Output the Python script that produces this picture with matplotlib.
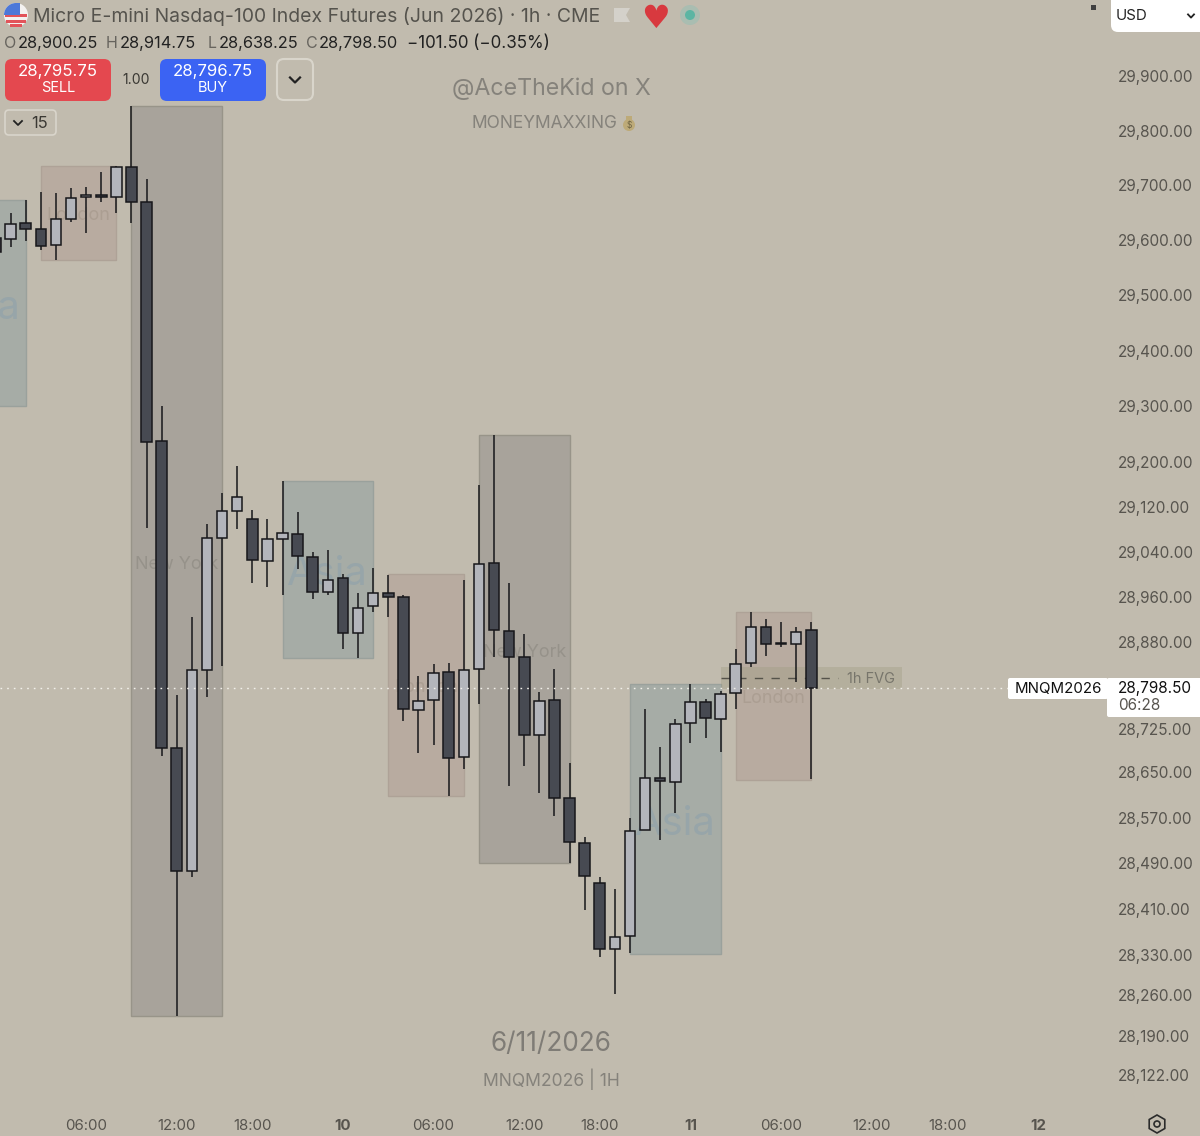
import matplotlib
matplotlib.use('Agg')
import matplotlib.pyplot as plt
from matplotlib.patches import FancyBboxPatch, Circle, Rectangle, RegularPolygon, Polygon, Ellipse, Wedge

plt.rcParams['font.family'] = ['Inter', 'DejaVu Sans']

BG = '#c1bbae'

# hourly bars, index 0 is the first bar fully on screen
bars = list(range(-1, 54))
opens = [29604.5, 29602.5, 29631.5, 29621, 29591.5, 29639, 29679, 29682.5, 29679, 29733.5, 29670,
         29238, 28692, 28476.5, 28830, 29064.25, 29112.5, 29098, 29023.25, 29062.5, 29071.5,
         29030.5, 28968, 28993, 28895.5, 28943.25, 28966.5, 28959.25, 28759.25, 28776.75, 28826.25,
         28676.5, 28831.5, 29019.75, 28899, 28852.75, 28715, 28776.75, 28604.25, 28525.5, 28455.5,
         28340.5, 28363, 28548.25, 28639.5, 28632.5, 28736.25, 28773.25, 28743.25, 28789, 28842.25,
         28906, 28877.5, 28875.75, 28900.25]
highs = [29615, 29650, 29673.5, 29688, 29686, 29695.5, 29697, 29724.5, 29735, 29845, 29712,
         29300.75, 28785.5, 28923.75, 29089, 29144.5, 29193, 29114, 29098, 29166, 29110.5,
         29039.25, 29043, 29000, 28966.5, 29011, 28998.5, 28962.75, 28819.25, 28840.5, 28842.25,
         28989.5, 29159, 29248.5, 28984, 28893.5, 28791, 28831.5, 28665.75, 28536, 28466,
         28445, 28569.25, 28761, 28694, 28743.25, 28805, 28778.5, 28792.75, 28867, 28932.5,
         28920, 28915, 28906, 28914.75]
lows = [29570, 29588, 29599, 29582.5, 29564, 29633.5, 29613.5, 29670, 29650, 29631.5, 29082,
        28678, 28224, 28466, 28782, 28837, 29080.25, 28984, 28977, 28962.75, 29009,
        28955.75, 28962.75, 28867, 28851, 28932.5, 28923.75, 28739.75, 28683.5, 28697.5, 28607.75,
        28655.25, 28769.75, 28852.75, 28625.5, 28660.5, 28613, 28572.75, 28490.5, 28408.5, 28326.5,
        28262.25, 28333.5, 28548.25, 28530.75, 28578, 28701, 28710, 28685.25, 28761, 28835,
        28854.5, 28870.5, 28808.5, 28638.25]
closes = [29579, 29630, 29621, 29590, 29639, 29677, 29682.5, 29679, 29733.5, 29670, 29236.5,
          28692, 28476.5, 28830, 29064.25, 29112.5, 29137.5, 29025, 29062.5, 29073, 29032,
          28968, 28989.5, 28895.5, 28939.75, 28966.5, 28959.25, 28761, 28775, 28824.5, 28674.5,
          28829.75, 29018, 28900.75, 28852.75, 28715, 28775, 28604.25, 28527.25, 28467.75, 28340.5,
          28361.5, 28546.5, 28639.5, 28634.25, 28734.5, 28773.25, 28745, 28787.5, 28840.5, 28906,
          28875.75, 28875.75, 28897, 28798.5]

# session boxes
session_names = ['Asia', 'London', 'New York', 'Asia', 'London', 'New York', 'Asia', 'London']
session_start = [-5, 2, 8, 18, 25, 31, 41, 48]
session_end = [1, 7, 14, 24, 30, 37, 47, 53]
session_high = [29673.5, 29735, 29845, 29166, 29000, 29248.5, 28805, 28932.5]
session_low = [29300.75, 29564, 28224, 28851, 28607.75, 28490.5, 28331.75, 28636]
session_text_price = [29476, 29646, 29017, 29000, 28798, 28861, 28558, 28779]

fvg_start, fvg_end = 47, 59
fvg_high, fvg_low, fvg_mid = 28835, 28796, 28816
last_price = 28798.5

price_ticks = [29900, 29800, 29700, 29600, 29500, 29400, 29300, 29200, 29120, 29040, 28960, 28880,
               28725, 28650, 28570, 28490, 28410, 28330, 28260, 28190, 28122]
time_ticks = [5, 11, 16, 22, 28, 34, 39, 45, 51, 57, 62, 68]
time_labels = ['06:00', '12:00', '18:00', '10', '06:00', '12:00', '18:00', '11', '06:00', '12:00', '18:00', '12']

box_style = {
    'Asia': ('#a6aca6', '#9aa19c'),
    'London': ('#b8aba0', '#aea297'),
    'New York': ('#a8a39b', '#989489'),
}


def px(size):
    # sizes below were measured in screen pixels
    return size * 0.72


fig = plt.figure(figsize=(12, 11.36), dpi=100, facecolor=BG)
ax = fig.add_axes([0, 30 / 1136, 1108 / 1200, 1106 / 1136], facecolor=BG)
ax.set_yscale('log')
ax.set_xlim(-0.70, 72.64)
ax.set_ylim(28068.7, 30039.8)

for name, x0, x1, hi, lo, tp in zip(session_names, session_start, session_end, session_high,
                                    session_low, session_text_price):
    fill, edge = box_style[name]
    ax.add_patch(Rectangle((x0, lo), x1 - x0, hi - lo, facecolor=fill, edgecolor=edge, lw=1, zorder=1))
    mid = (x0 + x1) / 2
    if name == 'Asia':
        ax.text(mid, tp, name, fontsize=px(40), color='#97a5a9', ha='center', va='center', zorder=2, clip_on=True)
    elif name == 'London':
        ax.text(mid, tp, name, fontsize=px(18), color='#ab9e92', ha='center', va='center', zorder=2, clip_on=True)
    else:
        ax.text(mid, tp, name, fontsize=px(18), color='#96928a', ha='center', va='center', zorder=2, clip_on=True)

# fair value gap
ax.add_patch(Rectangle((fvg_start, fvg_low), fvg_end - fvg_start, fvg_high - fvg_low,
                       facecolor='#9d9a7f', alpha=0.35, lw=0, zorder=2))
ax.plot([fvg_start, fvg_start + 7.8], [fvg_mid, fvg_mid], color='#55534a', lw=1, ls=(0, (6, 6)), zorder=2.5)
ax.text(fvg_start + 8.35, fvg_mid - 1.5, '1h FVG', fontsize=px(14.5), color='#77756b', va='center', zorder=2.5)

# last price line
ax.axhline(last_price, color='#f2f0ea', lw=1, ls=(0, (1.2, 3.6)), zorder=4)

# candles
up = [c >= o for o, c in zip(opens, closes)]
ax.vlines(bars, lows, highs, color='#17171a', lw=1.1, zorder=3)
for b, o, c, is_up in zip(bars, opens, closes, up):
    ax.bar(b, abs(c - o), bottom=min(o, c), width=0.7, color='#b3b5bb' if is_up else '#474a52',
           edgecolor='#17171a', lw=1.1, zorder=3.2)

ax.yaxis.tick_right()
ax.set_yticks(price_ticks)
ax.set_yticklabels([f'{p:,.2f}' for p in price_ticks], fontsize=px(15.3), color='#57544e')
ax.minorticks_off()
ax.set_xticks(time_ticks)
ax.set_xticklabels(time_labels, fontsize=px(15), color='#57544e')
for lab, txt in zip(ax.get_xticklabels(), time_labels):
    if len(txt) == 2:
        lab.set_fontweight('bold')
ax.tick_params(axis='both', length=0)
ax.tick_params(axis='y', pad=7)
ax.tick_params(axis='x', pad=9)
for s in ax.spines.values():
    s.set_visible(False)

# everything on the app chrome goes on a pixel overlay
ui = fig.add_axes([0, 0, 1, 1], facecolor='none', zorder=5)
ui.set_xlim(0, 1200)
ui.set_ylim(1136, 0)
ui.axis('off')


def button(x, y, w, h, fill, edge='none', r=7, lw=1.5):
    ui.add_patch(FancyBboxPatch((x + r, y + r), w - 2 * r, h - 2 * r, boxstyle=f'round,pad={r}',
                                facecolor=fill, edgecolor=edge, lw=lw))


def label(x, y, s, size, color, ha='left', **kw):
    # Inter sits a little high with va=center
    ui.text(x, y + 1.5, s, fontsize=px(size), color=color, ha=ha, va='center', **kw)


def chevron(x, y, w, h, color, lw=1.6):
    ui.plot([x - w, x, x + w], [y - h, y + h, y - h], color=color, lw=lw)


# flag
ui.add_patch(Circle((16, 15), 12, facecolor='#f4f2f0', edgecolor='none'))
ui.add_patch(Rectangle((5, 14), 22, 3, facecolor='#e2545a', lw=0))
ui.add_patch(Rectangle((6, 19.5), 20, 3, facecolor='#e2545a', lw=0))
ui.add_patch(Rectangle((10, 24), 12, 3, facecolor='#e2545a', lw=0))
ui.add_patch(Wedge((16, 15), 12, 180, 270, facecolor='#4d78d8', lw=0))
ui.add_patch(Rectangle((16, 3), 4, 12, facecolor='#4d78d8', lw=0))

label(33, 15, 'Micro E-mini Nasdaq-100 Index Futures (Jun 2026) · 1h · CME', 19.4, '#55534d')

ui.add_patch(Polygon([(614, 8), (630, 8), (626, 15), (630, 22), (614, 22)], facecolor='#d4d1ca', lw=0))
ui.text(656, 19, '♥', fontsize=px(32), color='#d8393f', ha='center', va='center', family='DejaVu Sans')
ui.add_patch(Circle((690, 15), 10, facecolor='#a9bdb1', lw=0))
ui.add_patch(Circle((690, 15), 5, facecolor='#5cb5a3', lw=0))

for x, s, c, sz in [(4, 'O', '#67645e', 16), (18, '28,900.25', '#222222', 16.4), (106, 'H', '#67645e', 16),
                    (120, '28,914.75', '#222222', 16.4), (208, 'L', '#67645e', 16),
                    (219, '28,638.25', '#222222', 16.4), (306, 'C', '#67645e', 16),
                    (319, '28,798.50', '#222222', 16.4), (407, '−101.50 (−0.35%)', '#222222', 17)]:
    label(x, 42, s, sz, c)

button(5, 59, 106, 42, '#e4484f')
label(58, 70, '28,795.75', 16.8, 'white', ha='center')
label(58, 87, 'SELL', 14.5, 'white', ha='center')
label(136, 78.5, '1.00', 14, '#3a3833', ha='center')
button(160, 59, 106, 42, '#3b63f3')
label(213, 70, '28,796.75', 16.8, 'white', ha='center')
label(213, 87, 'BUY', 14.5, 'white', ha='center')
button(277, 59, 36, 41, 'none', edge='#d9d5cb')
chevron(295, 80, 5, 2.5, '#222222', lw=1.6)
button(5, 110, 51, 25, 'none', edge='#d9d5cb', r=4, lw=1.2)
chevron(18, 123, 4, 2, '#222222', lw=1.3)
label(40, 122, '15', 16.5, '#3a3833', ha='center')

label(551, 87, '@AceTheKid on X', 23.2, '#85827b', ha='center')
label(544.5, 122, 'MONEYMAXXING', 17.4, '#85827b', ha='center')
ui.add_patch(Ellipse((629, 125), 12, 12, facecolor='#bdaa78', lw=0))
ui.add_patch(Rectangle((626, 116), 6, 5, facecolor='#bdaa78', lw=0))
label(629, 124, '$', 8.5, '#6e6444', ha='center')

ui.add_patch(Rectangle((1090.5, 4.5), 5, 5, facecolor='#3f3f3f', lw=0))
button(1111, -8, 100, 40, 'white')
label(1116, 15, 'USD', 15, '#222222')
chevron(1191, 16, 3, 1.6, '#222222', lw=1.3)

button(1008, 678, 100, 21, 'white', r=2)
label(1058, 687.5, 'MNQM2026', 15, '#111111', ha='center')
button(1107, 678, 100, 39, 'white', r=2)
label(1118, 686.5, '28,798.50', 15.3, '#111111')
label(1118, 703.5, '06:28', 15.3, '#57544e')

label(551, 1042, '6/11/2026', 26.2, '#7f7c76', ha='center')
label(551, 1077.5, 'MNQM2026 | 1H', 17.5, '#85827b', ha='center')

ui.add_patch(RegularPolygon((1157, 1124), 6, radius=9, orientation=0, facecolor='none', edgecolor='#2b2b2b', lw=1.2))
ui.add_patch(Circle((1157, 1124), 3, facecolor='none', edgecolor='#2b2b2b', lw=1.2))

fig.savefig('out.png', dpi=100, facecolor=BG)
